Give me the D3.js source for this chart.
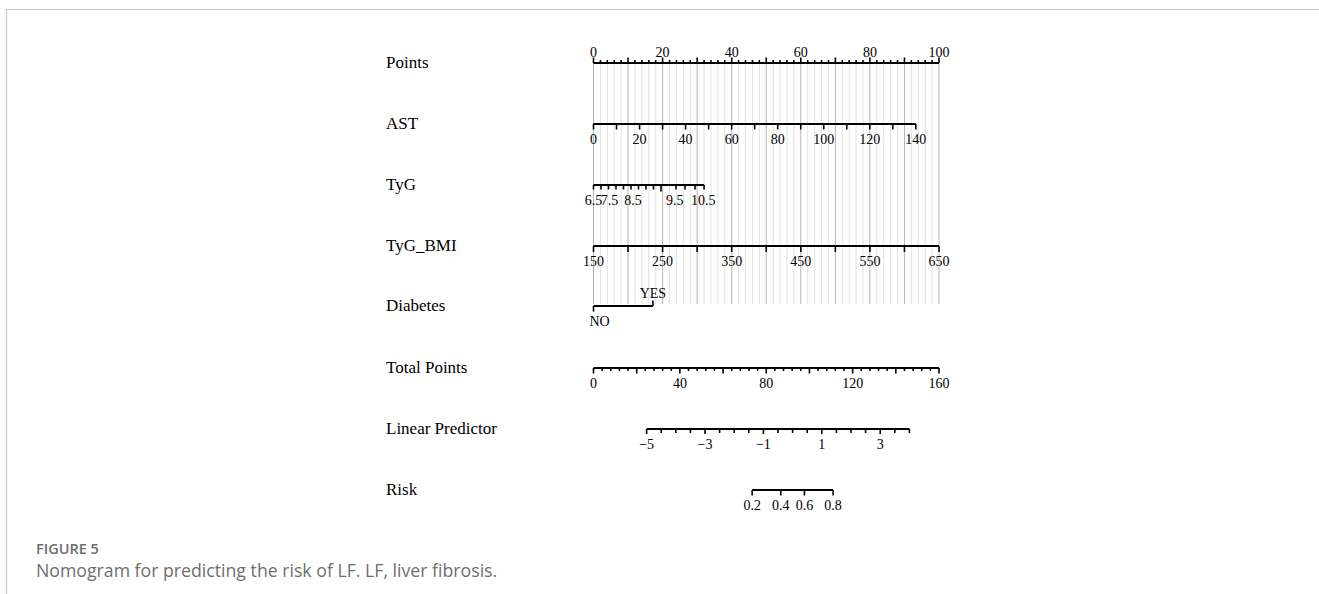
<!DOCTYPE html>
<html><head><meta charset="utf-8">
<script src="https://cdn.jsdelivr.net/npm/d3@7"></script>
<style>
body{margin:0;background:#fff}
.serif{font-family:"Liberation Serif","Times New Roman",serif;fill:#000}
.cap{font-family:"Open Sans","Noto Sans",sans-serif}
</style>
</head><body>
<svg id="c" width="1319" height="594"></svg>
<script>
// ---------------- data ----------------
const rowNames = ["Points","AST","TyG","TyG_BMI","Diabetes","Total Points","Linear Predictor","Risk"];

const pointsLabels = [0,20,40,60,80,100];
const pointsMinor  = [0,2,4,6,8,10,12,14,16,18,20,22,24,26,28,30,32,34,36,38,40,42,44,46,48,50,52,54,56,58,60,62,64,66,68,70,72,74,76,78,80,82,84,86,88,90,92,94,96,98,100];

const astTicks  = [0,10,20,30,40,50,60,70,80,90,100,110,120,130,140];
const astLabels = [0,20,40,60,80,100,120,140];
const astRange  = [0,140];     // value range
const astPoints = [0,93.3];    // points at range ends

// TyG has a non-linear effect: points read for each tick
const tygTickPoints  = [0,2.17,4.34,6.51,8.68,10.85,13.02,15.2,17.37,19.54,23.88,26.5,29.4,32.0];
const tygLabels      = ["6.5","7.5","8.5","9.5","10.5"];
const tygLabelPoints = [0,4.6,11.4,23.5,31.8];
const tygLongTick    = 19.54;

const bmiTicks  = [150,200,250,300,350,400,450,500,550,600,650];
const bmiLabels = [150,250,350,450,550,650];
const bmiRange  = [150,650];
const bmiPoints = [0,100];

const diabLevels = ["NO","YES"];
const diabPoints = [0,17.2];

const totalLabels = [0,40,80,120,160];
const totalMinor  = [0,4,8,12,16,20,24,28,32,36,40,44,48,52,56,60,64,68,72,76,80,84,88,92,96,100,104,108,112,116,120,124,128,132,136,140,144,148,152,156,160];

const lpTicks  = [-5,-4.5,-4,-3.5,-3,-2.5,-2,-1.5,-1,-0.5,0,0.5,1,1.5,2,2.5,3,3.5,4];
const lpLabels = [-5,-3,-1,1,3];
const lpRange  = [-5,4];
const lpTotal  = [24.6,146.3];   // total points at LP range ends

const riskTicks = [0.2,0.4,0.6,0.8];

// ---------------- layout ----------------
const svg = d3.select("#c");
const x0 = 593.5, x1 = 939;
const rowY = [63, 124, 185, 246, 306, 368, 429, 490];
const labelX = 386;
const tickFont = "14px";

const xP = d3.scaleLinear().domain([0,100]).range([x0,x1]);
const xTotal = d3.scaleLinear().domain([0,160]).range([x0,x1]);

// frame
svg.append("line").attr("x1",6.5).attr("x2",1319).attr("y1",9.5).attr("y2",9.5).attr("stroke","#c6c6c6").attr("stroke-width",1.2);
svg.append("line").attr("x1",6.5).attr("x2",6.5).attr("y1",9).attr("y2",594).attr("stroke","#c6c6c6").attr("stroke-width",1.2);

// gridlines
const gridBottom = rowY[4] - 2;
svg.append("g").selectAll("line").data(pointsMinor).join("line")
  .attr("x1",d=>xP(d)).attr("x2",d=>xP(d)).attr("y1",rowY[0]).attr("y2",gridBottom)
  .attr("stroke",d=> d%10===0 ? "#b4b4b4" : "#e2e2e2").attr("stroke-width",1);

// row labels
svg.append("g").selectAll("text").data(rowNames).join("text")
  .attr("class","serif").attr("x",labelX).attr("y",(d,i)=>rowY[i]).attr("dy","0.3em")
  .style("font-size","17px").text(d=>d);

function fmt(v){ return (v<0?"\u2212":"") + Math.abs(v); }

function drawAxis(scale, y, ticks, labels, opts){
  const g = svg.append("g");
  const dir = opts.up ? -1 : 1;
  const ext = opts.extent || scale.range();
  const lx = opts.labelX || scale;
  g.append("line").attr("x1",ext[0]).attr("x2",ext[1]).attr("y1",y).attr("y2",y)
    .attr("stroke","#000").attr("stroke-width",2);
  g.selectAll("line.t").data(ticks).join("line").attr("class","t")
    .attr("x1",d=>scale(d)).attr("x2",d=>scale(d)).attr("y1",y)
    .attr("y2",d=>y + dir*(opts.len ? opts.len(d) : 5))
    .attr("stroke","#000").attr("stroke-width",1.6);
  g.selectAll("text").data(labels).join("text").attr("class","serif")
    .attr("x",(d,i)=>lx(d,i)).attr("y", y + (opts.up ? -6 : 15))
    .attr("dy", opts.up ? "0em" : "0.35em")
    .attr("text-anchor","middle").style("font-size",tickFont)
    .text(opts.fmt || fmt);
}

// Points
drawAxis(xP, rowY[0], pointsMinor, pointsLabels, {up:true, len:d=> d%10===0 ? 5.5 : 3});
// AST
const xAST = d3.scaleLinear().domain(astRange).range(astPoints.map(xP));
drawAxis(xAST, rowY[1], astTicks, astLabels, {len:()=>5.5});
// TyG
drawAxis(xP, rowY[2], tygTickPoints, tygLabels, {
  extent:[xP(d3.min(tygTickPoints)), xP(d3.max(tygTickPoints))],
  labelX:(d,i)=>xP(tygLabelPoints[i]),
  len:d=> d===tygLongTick ? 6.5 : 4.5, fmt:d=>d});
// TyG_BMI
const xBMI = d3.scaleLinear().domain(bmiRange).range(bmiPoints.map(xP));
drawAxis(xBMI, rowY[3], bmiTicks, bmiLabels, {len:()=>6});
// Diabetes
{
  const y = rowY[4];
  const xd = d3.scaleOrdinal().domain(diabLevels).range(diabPoints.map(xP));
  const g = svg.append("g");
  g.append("line").attr("x1",xd("NO")).attr("x2",xd("YES")).attr("y1",y).attr("y2",y).attr("stroke","#000").attr("stroke-width",2);
  g.append("line").attr("x1",xd("NO")).attr("x2",xd("NO")).attr("y1",y).attr("y2",y+5.5).attr("stroke","#000").attr("stroke-width",1.6);
  g.append("line").attr("x1",xd("YES")).attr("x2",xd("YES")).attr("y1",y).attr("y2",y-5.5).attr("stroke","#000").attr("stroke-width",1.6);
  g.append("text").attr("class","serif").attr("x",xd("NO")-4).attr("y",y+15).attr("dy","0.35em").attr("text-anchor","start").style("font-size",tickFont).text("NO");
  g.append("text").attr("class","serif").attr("x",xd("YES")).attr("y",y-8).attr("text-anchor","middle").style("font-size",tickFont).text("YES");
}
// Total points
drawAxis(xTotal, rowY[5], totalMinor, totalLabels, {len:d=> d%20===0 ? 5.5 : 3});
// Linear predictor
const xLP = d3.scaleLinear().domain(lpRange).range(lpTotal.map(xTotal));
drawAxis(xLP, rowY[6], lpTicks, lpLabels, {len:d=> Number.isInteger(d) && d%2!==0 ? 5 : 4});
// Risk
const logit = p => Math.log(p/(1-p));
const xRisk = p => xLP(logit(p));
drawAxis(xRisk, rowY[7], riskTicks, riskTicks, {
  extent:[xRisk(riskTicks[0]), xRisk(riskTicks[riskTicks.length-1])],
  len:()=>5.5, fmt:d=>String(d)});

// caption
svg.append("text").attr("class","cap").attr("x",36).attr("y",554)
  .style("font-size","14.5px").style("font-weight","600").style("fill","#6e6e6e").text("FIGURE 5");
svg.append("text").attr("class","cap").attr("x",36).attr("y",577)
  .style("font-size","17.7px").style("font-weight","400").style("fill","#6e6e6e")
  .text("Nomogram for predicting the risk of LF. LF, liver fibrosis.");
</script>
</body></html>
